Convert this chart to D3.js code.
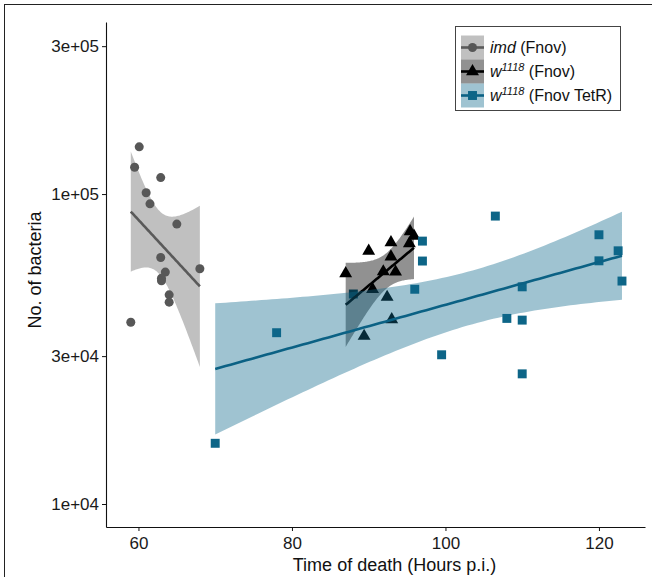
<!DOCTYPE html>
<html>
<head>
<meta charset="utf-8">
<script src="https://cdn.jsdelivr.net/npm/d3@7/dist/d3.min.js"></script>
<style>
body { margin: 0; background: #fff; }
svg { display: block; font-family: "Liberation Sans", Arial, Helvetica, sans-serif; }
</style>
</head>
<body>
<svg id="chart" width="652" height="577"></svg>
<script>
// ---- data ----
const imdTime = [60.1, 59.5, 62.9, 61.0, 61.5, 65.0, 62.9, 63.5, 63.0, 63.0, 64.0, 64.0, 68.0, 59.0];
const imdBacteria = [142000, 122000, 113000, 101000, 93000, 80000, 62400, 56000, 53500, 52500, 47300, 44800, 57400, 38600];

const w1118Time = [87.0, 90.0, 90.5, 89.4, 91.9, 92.4, 92.9, 92.9, 93.0, 93.5, 95.4, 95.9, 95.3];
const w1118Bacteria = [55400, 65500, 49300, 34800, 56200, 46500, 69800, 62800, 39400, 56100, 75700, 73200, 69300];

const tetrTime = [70.0, 78.0, 88.0, 96.0, 97.0, 97.0, 99.5, 106.5, 108.0, 110.0, 110.0, 110.0, 120.0, 120.0, 122.5, 123.0];
const tetrBacteria = [15700, 35700, 47600, 49300, 70500, 60800, 30300, 84900, 39700, 50200, 39200, 26300, 73900, 60900, 65600, 52400];

const xTicks = [60, 80, 100, 120];
const yTicks = [10000, 30000, 100000, 300000];
const yTickLabels = ["1e+04", "3e+04", "1e+05", "3e+05"];

const seriesSuffix = ["(Fnov)", "(Fnov)", "(Fnov TetR)"];
const seriesSup = ["", "1118", "1118"];
const seriesItalic = ["imd", "w", "w"];

// t quantiles (0.975) by degrees of freedom
const t975 = {8:2.306, 9:2.262, 10:2.228, 11:2.201, 12:2.179, 13:2.160, 14:2.145, 15:2.131, 16:2.120};

// ---- layout ----
const svg = d3.select("#chart");
const x = d3.scaleLinear().domain([55.77, 126.0]).range([106, 645]);
const y = d3.scaleLog().domain([8430, 359000]).range([527, 22]);

const styles = [
  {pt: "#575757", line: "#5a5a5a", fill: "#5a5a5a", alpha: 0.38, shape: d3.symbolCircle, size: 64},
  {pt: "#000000", line: "#000000", fill: "#000000", alpha: 0.43, shape: d3.symbolTriangle, size: 72},
  {pt: "#0d6587", line: "#0b6184", fill: "#106a8b", alpha: 0.4, shape: d3.symbolSquare, size: 80}
];

const series = [
  {xs: imdTime, ys: imdBacteria},
  {xs: w1118Time, ys: w1118Bacteria},
  {xs: tetrTime, ys: tetrBacteria}
];

// frame
svg.append("line").attr("x1", 4.5).attr("x2", 4.5).attr("y1", 4).attr("y2", 577).attr("stroke", "#222").attr("stroke-width", 1);
svg.append("line").attr("x1", 4).attr("x2", 652).attr("y1", 4.5).attr("y2", 4.5).attr("stroke", "#222").attr("stroke-width", 1);

// points
series.forEach((s, i) => {
  const st = styles[i];
  svg.append("g").selectAll("path").data(s.xs.map((v, k) => [v, s.ys[k]])).join("path")
    .attr("transform", d => `translate(${x(d[0])},${y(d[1])})`)
    .attr("d", d3.symbol().type(st.shape).size(st.size))
    .attr("fill", st.pt);
});

// linear fits in log10 space with 95% CI
function fit(xs, ys) {
  const n = xs.length;
  const ly = ys.map(v => Math.log10(v));
  const mx = d3.mean(xs), my = d3.mean(ly);
  let sxx = 0, sxy = 0;
  xs.forEach((v, k) => { sxx += (v - mx) ** 2; sxy += (v - mx) * (ly[k] - my); });
  const b = sxy / sxx, a = my - b * mx;
  let sse = 0;
  xs.forEach((v, k) => { sse += (ly[k] - (a + b * v)) ** 2; });
  const s = Math.sqrt(sse / (n - 2));
  const t = t975[n - 2];
  const [x0, x1] = d3.extent(xs);
  const grid = d3.range(80).map(k => x0 + (x1 - x0) * k / 79);
  return grid.map(g => {
    const yh = a + b * g;
    const se = s * Math.sqrt(1 / n + (g - mx) ** 2 / sxx);
    return {x: g, y: Math.pow(10, yh), lo: Math.pow(10, yh - t * se), hi: Math.pow(10, yh + t * se)};
  });
}

series.forEach((s, i) => {
  const st = styles[i];
  const f = fit(s.xs, s.ys);
  svg.append("path").datum(f)
    .attr("d", d3.area().x(d => x(d.x)).y0(d => y(d.lo)).y1(d => y(d.hi)))
    .attr("fill", st.fill).attr("fill-opacity", st.alpha);
  svg.append("path").datum(f)
    .attr("d", d3.line().x(d => x(d.x)).y(d => y(d.y)))
    .attr("fill", "none").attr("stroke", st.line).attr("stroke-width", 2.6);
});

// axes
const gx = svg.append("g").attr("transform", "translate(0,527)")
  .call(d3.axisBottom(x).tickValues(xTicks).tickSize(4).tickSizeOuter(0).tickPadding(6));
const gy = svg.append("g").attr("transform", "translate(106,0)")
  .call(d3.axisLeft(y).tickValues(yTicks).tickFormat((d, k) => yTickLabels[k]).tickSize(4).tickSizeOuter(0).tickPadding(3));
[gx, gy].forEach(g => {
  g.selectAll(".domain").attr("stroke", "#111").attr("stroke-width", 1.1);
  g.selectAll(".tick line").attr("stroke", "#111");
  g.selectAll(".tick text").attr("fill", "#1a1a1a").style("font-size", "17px").style("font-family", "'Liberation Sans', Arial, sans-serif");
});

// axis titles
svg.append("text").attr("x", 394.5).attr("y", 571).attr("text-anchor", "middle")
  .style("font-size", "18px").attr("fill", "#111").text("Time of death (Hours p.i.)");
svg.append("text").attr("transform", "translate(41,270) rotate(-90)").attr("text-anchor", "middle")
  .style("font-size", "18px").attr("fill", "#111").text("No. of bacteria");

// legend
const lg = svg.append("g");
lg.append("rect").attr("x", 455.5).attr("y", 26.5).attr("width", 165).attr("height", 84)
  .attr("fill", "#fff").attr("stroke", "#444").attr("stroke-width", 1);
styles.forEach((st, i) => {
  const cy = 47.5 + i * 24;
  lg.append("rect").attr("x", 461).attr("y", cy - 12).attr("width", 23).attr("height", 24)
    .attr("fill", st.fill).attr("fill-opacity", st.alpha);
  lg.append("line").attr("x1", 461).attr("x2", 484).attr("y1", cy).attr("y2", cy)
    .attr("stroke", st.line).attr("stroke-width", 2.6);
  lg.append("path").attr("transform", `translate(472.5,${cy})`)
    .attr("d", d3.symbol().type(st.shape).size(st.size)).attr("fill", st.pt);
  const t = lg.append("text").attr("x", 490).attr("y", cy + 5.5).style("font-size", "16px").attr("fill", "#111");
  t.append("tspan").style("font-style", "italic").text(seriesItalic[i]);
  if (seriesSup[i]) {
    t.append("tspan").style("font-style", "italic").style("font-size", "11px").attr("dy", -6).text(seriesSup[i]);
    t.append("tspan").attr("dy", 6).text(" " + seriesSuffix[i]);
  } else {
    t.append("tspan").text(" " + seriesSuffix[i]);
  }
});
</script>
</body>
</html>
